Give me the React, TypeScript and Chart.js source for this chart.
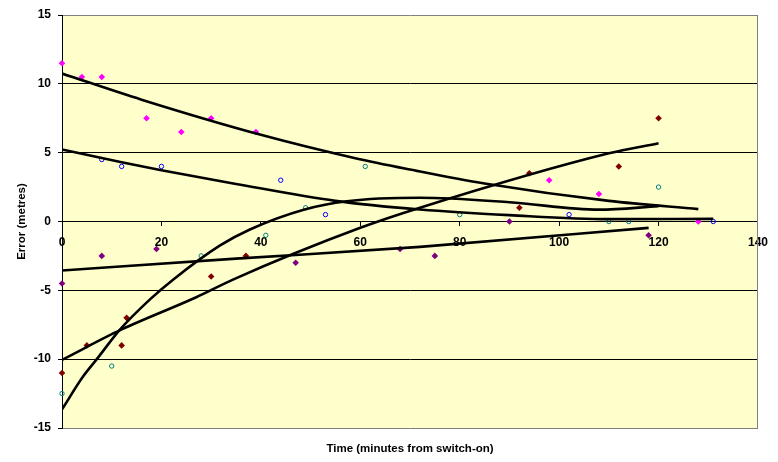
import React, { useEffect, useRef } from "react";
import { Chart, registerables } from "chart.js";

Chart.register(...registerables);

// Axis ticks
const xTicks = [0, 20, 40, 60, 80, 100, 120, 140];
const yTicks = [-15, -10, -5, 0, 5, 10, 15];

// Series 1 (magenta)
const magentaX = [0, 4, 8, 17, 24, 30, 39, 98, 108, 128];
const magentaY = [11.5, 10.5, 10.5, 7.5, 6.5, 7.5, 6.5, 3, 2, 0];
// Series 2 (blue)
const blueX = [8, 12, 20, 44, 53, 102, 131];
const blueY = [4.5, 4, 4, 3, 0.5, 0.5, 0];
// Series 3 (dark red)
const darkRedX = [0, 5, 12, 13, 30, 37, 92, 94, 112, 120];
const darkRedY = [-11, -9, -9, -7, -4, -2.5, 1, 3.5, 4, 7.5];
// Series 4 (teal)
const tealX = [0, 10, 28, 41, 49, 61, 80, 110, 114, 120];
const tealY = [-12.5, -10.5, -2.5, -1, 1, 4, 0.5, 0, 0, 2.5];
// Series 5 (purple)
const purpleX = [0, 8, 19, 47, 68, 75, 90, 118];
const purpleY = [-4.5, -2.5, -2, -3, -2, -2.5, 0, -1];

// Trend lines
const magentaTrendX = [0, 16, 40, 59, 70, 85, 110, 128];
const magentaTrendY = [10.75, 8.85, 6.3, 4.6, 3.78, 2.76, 1.5, 0.9];
const blueTrendX = [0, 12, 20, 35, 55, 72, 90, 110, 131];
const blueTrendY = [5.23, 4.31, 3.73, 2.73, 1.5, 0.87, 0.46, 0.17, 0.19];
const darkRedTrendX = [0, 12, 27, 34.5, 60, 72, 110, 120];
const darkRedTrendY = [-10.05, -7.84, -5.5, -4.2, -0.46, 1.0, 4.95, 5.69];
const tealTrendX = [0, 4.3, 7, 11.7, 17.7, 22.4, 31.8, 37.8, 48.8, 57.3, 72, 90, 108, 120];
const tealTrendY = [-13.65, -11.23, -10.0, -7.84, -5.66, -4.21, -1.74, -0.58, 0.87, 1.47, 1.72, 1.4, 0.86, 1.11];
const purpleTrendX = [0, 35, 72, 118];
const purpleTrendY = [-3.56, -2.7, -1.84, -0.46];

const pts = (xs: number[], ys: number[]) => xs.map((x, i) => ({ x, y: ys[i] }));

const FONT = "'Liberation Sans', Arial, sans-serif";

export default function App() {
  const ref = useRef<HTMLCanvasElement>(null);

  useEffect(() => {
    if (!ref.current) return;
    const bgPlugin = {
      id: "plotBg",
      beforeDraw(chart: any) {
        const { ctx, chartArea: a } = chart;
        ctx.save();
        ctx.fillStyle = "#FFFFCC";
        ctx.fillRect(a.left, a.top, a.right - a.left, a.bottom - a.top);
        ctx.restore();
      },
      beforeDatasetsDraw(chart: any) {
        const { ctx, chartArea: a } = chart;
        ctx.save();
        ctx.strokeStyle = "#808080";
        ctx.lineWidth = 1;
        ctx.beginPath();
        const x = Math.round(a.right) - 0.5;
        ctx.moveTo(x, a.top);
        ctx.lineTo(x, a.bottom);
        ctx.stroke();
        ctx.restore();
      },
    };

    const scatter = (data: any, color: string, hollow: boolean) => ({
      type: "scatter",
      data,
      showLine: false,
      pointStyle: hollow ? "circle" : "rectRot",
      pointRadius: hollow ? 2.2 : 3.3,
      borderWidth: hollow ? 1 : 0,
      borderColor: color,
      backgroundColor: hollow ? "rgba(0,0,0,0)" : color,
      pointHoverRadius: 3,
      clip: false,
      order: 2,
    });
    const trend = (data: any) => ({
      type: "scatter",
      data,
      showLine: true,
      pointRadius: 0,
      borderColor: "#000000",
      backgroundColor: "#000000",
      borderWidth: 2.6,
      cubicInterpolationMode: "monotone",
      order: 1,
    });

    const chart = new Chart(ref.current, {
      type: "scatter",
      data: {
        datasets: [
          scatter(pts(magentaX, magentaY), "#FF00FF", false),
          scatter(pts(blueX, blueY), "#0000FF", true),
          scatter(pts(darkRedX, darkRedY), "#800000", false),
          scatter(pts(tealX, tealY), "#008080", true),
          scatter(pts(purpleX, purpleY), "#800080", false),
          trend(pts(magentaTrendX, magentaTrendY)),
          trend(pts(blueTrendX, blueTrendY)),
          trend(pts(darkRedTrendX, darkRedTrendY)),
          trend(pts(tealTrendX, tealTrendY)),
          trend(pts(purpleTrendX, purpleTrendY)),
        ] as any,
      },
      options: {
        animation: false,
        responsive: false,
        events: [],
        layout: { padding: { top: 15, right: 20, bottom: 0, left: 0 } },
        plugins: { legend: { display: false }, tooltip: { enabled: false } },
        scales: {
          x: {
            type: "linear",
            position: { y: 0 } as any,
            min: 0,
            max: 140,
            afterBuildTicks: (s: any) => {
              s.ticks = xTicks.map((v) => ({ value: v }));
            },
            ticks: {
              color: "#000",
              font: { family: FONT, weight: "bold", size: 12 },
              padding: 10,
              maxRotation: 0,
              autoSkip: false,
            },
            grid: { drawOnChartArea: false, drawTicks: true, tickLength: 4, color: "#000" },
            border: { display: true, color: "#000", width: 1 },
          },
          x2: {
            type: "linear",
            position: "bottom",
            min: 0,
            max: 140,
            ticks: { display: false },
            grid: { display: false },
            border: { display: false },
            title: {
              display: true,
              text: "Time (minutes from switch-on)",
              color: "#000",
              font: { family: FONT, weight: "bold", size: 11.5 },
              padding: { top: 0, bottom: 6 },
            },
            afterFit: (s: any) => {
              s.height = 34;
            },
          },
          y: {
            type: "linear",
            position: "left",
            min: -15,
            max: 15,
            afterBuildTicks: (s: any) => {
              s.ticks = yTicks.map((v) => ({ value: v }));
            },
            ticks: {
              color: "#000",
              font: { family: FONT, weight: "bold", size: 12 },
              padding: 7,
            },
            grid: {
              color: (c: any) =>
                c.tick && Math.abs(c.tick.value) === 15 ? "#808080" : "#000000",
              tickColor: "#000000",
              tickLength: 4,
              drawTicks: true,
            },
            border: { display: true, color: "#000", width: 1 },
            title: {
              display: true,
              text: "Error (metres)",
              color: "#000",
              font: { family: FONT, weight: "bold", size: 11.5 },
              padding: { top: 15, bottom: 0 },
            },
            afterFit: (s: any) => {
              s.width = 62;
            },
          },
        },
      } as any,
      plugins: [bgPlugin],
    });
    return () => chart.destroy();
  }, []);

  return (
    <div style={{ position: "absolute", left: 0, top: 0, width: 778, height: 462, background: "#fff" }}>
      <canvas ref={ref} width={778} height={462} style={{ display: "block" }} />
    </div>
  );
}
